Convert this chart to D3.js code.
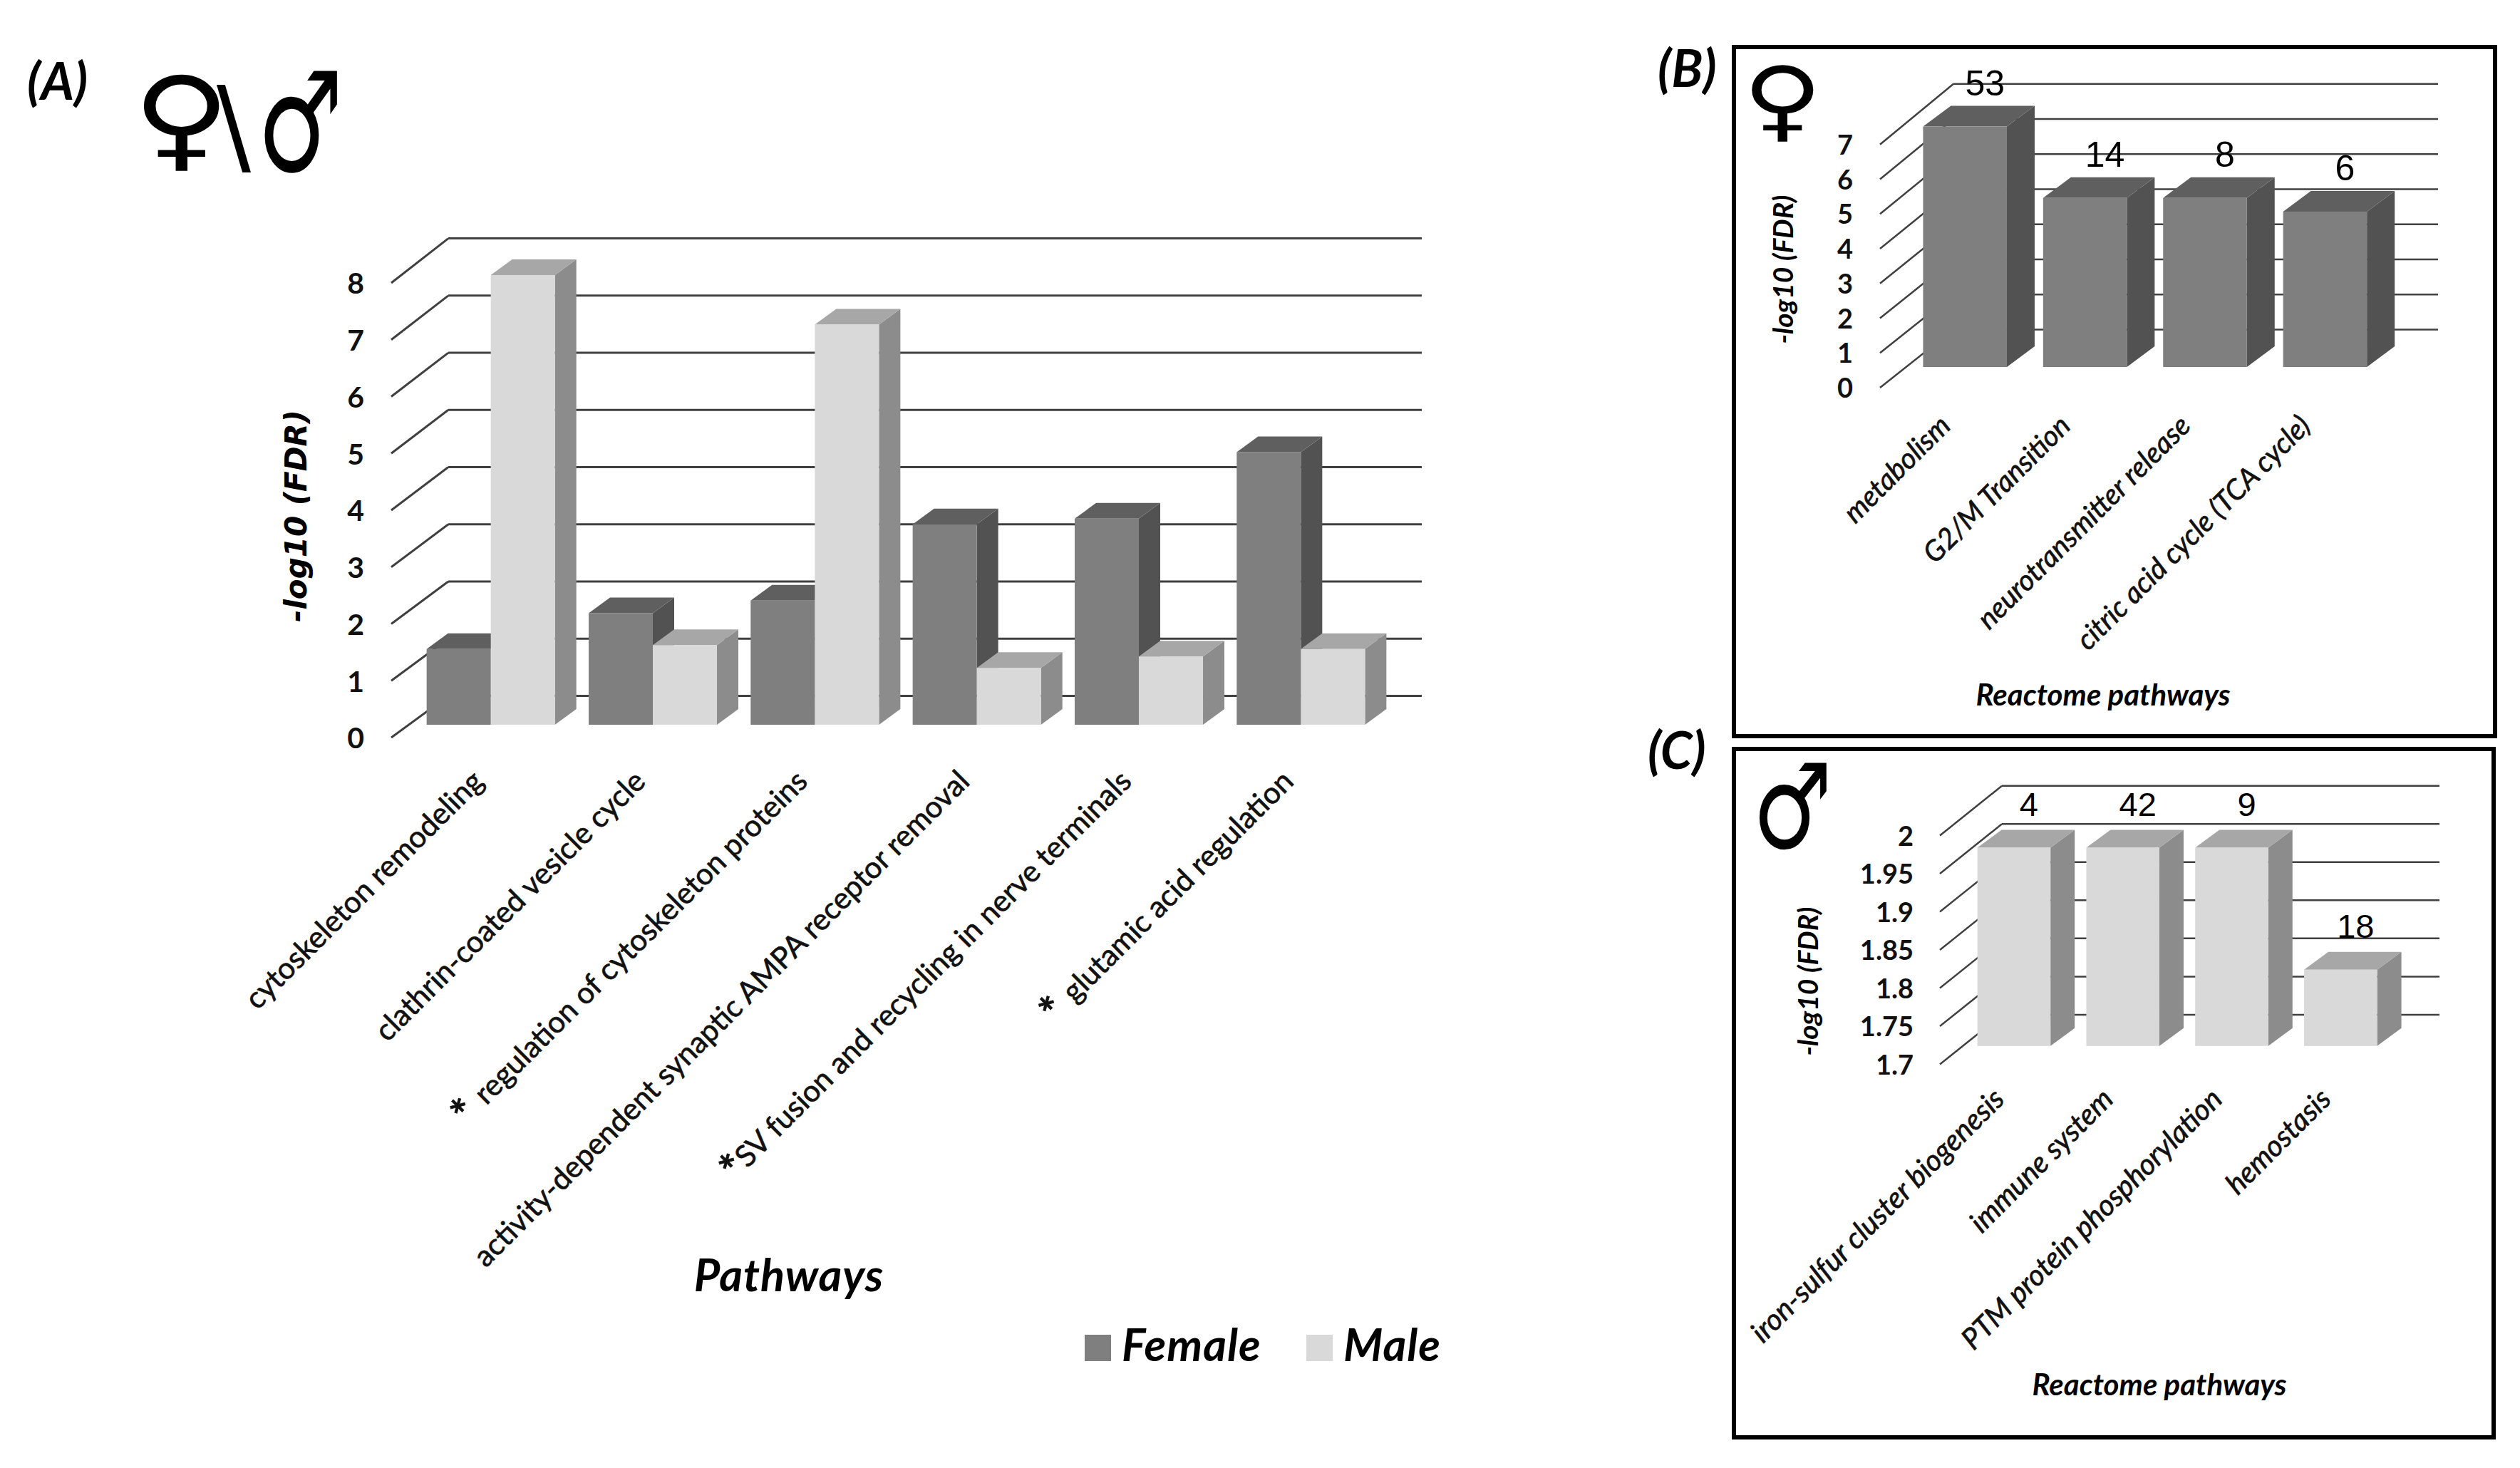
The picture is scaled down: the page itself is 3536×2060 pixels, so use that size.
<!DOCTYPE html>
<html>
<head>
<meta charset="utf-8">
<script src="https://cdn.jsdelivr.net/npm/d3@7/dist/d3.min.js"></script>
<style>
  body { margin: 0; background: #fff; }
  svg { display: block; }
</style>
</head>
<body>
<svg id="fig" width="3536" height="2060"></svg>
<script>
// ---------- data ----------
const pathwaysA = [
  "cytoskeleton remodeling",
  "clathrin-coated vesicle cycle",
  "regulation of cytoskeleton proteins",
  "activity-dependent synaptic AMPA receptor removal",
  "SV fusion and recycling in nerve terminals",
  "glutamic acid regulation"
];
const starA = ["", "", "* ", "", "*", "* "];
const sexes = ["Female", "Male"];
const femaleA = [1.33, 1.96, 2.18, 3.52, 3.62, 4.79];
const maleA = [7.9, 1.4, 7.03, 1.0, 1.2, 1.33];
const ticksA = [0, 1, 2, 3, 4, 5, 6, 7, 8];

const pathwaysB = ["metabolism", "G2/M Transition", "neurotransmitter release", "citric acid cycle (TCA cycle)"];
const fdrB = [6.9, 4.85, 4.85, 4.46];
const genesB = [53, 14, 8, 6];
const ticksB = [0, 1, 2, 3, 4, 5, 6, 7];

const pathwaysC = ["iron-sulfur cluster biogenesis", "immune system", "PTM protein phosphorylation", "hemostasis"];
const fdrC = [1.96, 1.96, 1.96, 1.80];
const genesC = [4, 42, 9, 18];
const ticksC = [1.7, 1.75, 1.8, 1.85, 1.9, 1.95, 2];

// ---------- styles ----------
const shade = {
  Female: { front: "#7f7f7f", side: "#525252", top: "#5f5f5f" },
  Male:   { front: "#d9d9d9", side: "#8c8c8c", top: "#a7a7a7" }
};
const grid = "#404040";
const SANS = "Lato, 'Open Sans', sans-serif";

const svg = d3.select("#fig");

// a column drawn as front face + right side + top, Excel 3-D style
function column(g, x, w, yTop, yBase, dx, dy, c) {
  g.append("path")
    .attr("d", `M${x + w},${yTop}L${x + w + dx},${yTop + dy}L${x + w + dx},${yBase + dy}L${x + w},${yBase}Z`)
    .attr("fill", c.side);
  g.append("path")
    .attr("d", `M${x},${yTop}L${x + dx},${yTop + dy}L${x + w + dx},${yTop + dy}L${x + w},${yTop}Z`)
    .attr("fill", c.top);
  g.append("rect")
    .attr("x", x).attr("y", yTop)
    .attr("width", w).attr("height", yBase - yTop)
    .attr("fill", c.front);
}

// back wall gridlines + left wall diagonals + tick labels
function walls(g, o) {
  g.selectAll(".diag").data(o.ticks).join("line")
    .attr("x1", o.wallX0).attr("y1", d => o.front(d))
    .attr("x2", o.wallX1).attr("y2", d => o.back(d))
    .attr("stroke", grid).attr("stroke-width", o.sw);
  g.selectAll(".back").data(o.ticks).join("line")
    .attr("x1", o.wallX1).attr("y1", d => o.back(d))
    .attr("x2", o.wallX2).attr("y2", d => o.back(d))
    .attr("stroke", grid).attr("stroke-width", o.sw);

  const ax = g.append("g")
    .attr("transform", `translate(${o.labelX},0)`)
    .call(d3.axisLeft(o.front).tickValues(o.ticks).tickSize(0).tickPadding(0).tickFormat(d3.format("~g")));
  ax.select(".domain").remove();
  ax.selectAll("text")
    .attr("font-family", SANS).attr("font-weight", "bold")
    .attr("font-size", o.tickSize).attr("fill", "#111").attr("dy", "0.36em");
}

function rotLabels(g, names, x, y, size, dxOff) {
  g.selectAll(".cat").data(names).join("text")
    .attr("transform", d => `translate(${x(d) + x.bandwidth() / 2 + dxOff},${y}) rotate(-45)`)
    .attr("text-anchor", "end")
    .attr("font-family", SANS).attr("font-size", size)
    .attr("font-style", "italic")
    .attr("fill", "#111").attr("stroke", "#111").attr("stroke-width", 0.7)
    .text(d => d);
}

// sex symbols, stretched like the picture; the advance is trimmed so the
// text box ends at `right` and neighbouring glyphs do not overlap
function symbol(g, ch, x, y, size, sx, sy, right) {
  const t = g.append("text")
    .attr("transform", `translate(${x},${y}) scale(${sx},${sy})`)
    .attr("font-family", "'DejaVu Sans'").attr("font-size", size)
    .attr("fill", "#000").text(ch);
  if (right !== undefined) {
    const w = t.node().getComputedTextLength();
    const want = (right - x) / sx;
    if (want < w) t.attr("letter-spacing", want - w);
  }
  return t;
}

function heading(g, txt, x, y) {
  g.append("text").attr("x", x).attr("y", y)
    .attr("font-family", SANS).attr("font-weight", "bold").attr("font-style", "italic")
    .attr("font-size", 72).text(txt);
}

// =============== panel A ===============
const gA = svg.append("g");
const frontA = d3.scaleLinear().domain([0, 8]).range([1035, 397]);
const backA = d3.scaleLinear().domain([0, 8]).range([976.5, 334.6]);
const barA = d3.scaleLinear().domain([0, 8]).range([1017, 378]);
const xA = d3.scaleBand().domain(pathwaysA).range([575, 1939]).paddingInner(0.208).paddingOuter(0.104);
const xSex = d3.scaleBand().domain(sexes).range([0, xA.bandwidth()]);

walls(gA, { ticks: ticksA, front: frontA, back: backA, wallX0: 549, wallX1: 629, wallX2: 1995,
  labelX: 511, tickSize: 41, sw: 3 });

pathwaysA.forEach((p, i) => {
  const vals = { Female: femaleA[i], Male: maleA[i] };
  sexes.forEach(s => {
    column(gA, xA(p) + xSex(s), xSex.bandwidth(), barA(vals[s]), barA(0), 30, -22, shade[s]);
  });
});

// category labels with asterisks
gA.selectAll(".cat").data(pathwaysA).join("text")
  .attr("transform", d => `translate(${xA(d) + xA.bandwidth() / 2 - 8},1099) rotate(-45)`)
  .attr("text-anchor", "end")
  .attr("font-family", SANS).attr("font-size", 42)
  .attr("fill", "#111").attr("stroke", "#111").attr("stroke-width", 0.7)
  .each(function (d, i) {
    const t = d3.select(this);
    if (starA[i]) t.append("tspan").attr("font-weight", "bold").attr("font-size", 62).attr("dy", 8).text(starA[i]);
    t.append("tspan").attr("dy", starA[i] ? -8 : 0).text(d);
  });

gA.append("text")
  .attr("transform", "translate(430,724) rotate(-90)")
  .attr("text-anchor", "middle")
  .attr("font-family", "'DejaVu Sans'").attr("font-weight", "bold").attr("font-style", "italic")
  .attr("font-size", 42).attr("fill", "#000")
  .text("-log10 (FDR)");

gA.append("text")
  .attr("x", 1107).attr("y", 1812).attr("text-anchor", "middle")
  .attr("font-family", SANS).attr("font-weight", "bold").attr("font-style", "italic")
  .attr("font-size", 63).attr("letter-spacing", 1).attr("fill", "#000")
  .text("Pathways");

// legend
const legX = { Female: 1522, Male: 1833 };
sexes.forEach(s => {
  gA.append("rect").attr("x", legX[s]).attr("y", 1873).attr("width", 37).attr("height", 37)
    .attr("fill", shade[s].front);
  gA.append("text").attr("x", legX[s] + 52).attr("y", 1910)
    .attr("font-family", SANS).attr("font-weight", "bold").attr("font-style", "italic")
    .attr("font-size", 63).attr("letter-spacing", 1).attr("fill", "#000").text(s);
});

heading(gA, "(A)", 38, 140);
symbol(gA, "\u2640", 186, 220, 150, 1.25, 1.05, 303);
symbol(gA, "\\", 304, 228, 150, 0.95, 1, 360);
symbol(gA, "\u2642", 361, 240, 150, 0.9, 1.3);

// =============== panel B ===============
const gB = svg.append("g");
gB.append("rect").attr("x", 2433).attr("y", 66).attr("width", 1068).attr("height", 967)
  .attr("fill", "none").attr("stroke", "#000").attr("stroke-width", 6);
heading(gB, "(B)", 2326, 122);
symbol(gB, "\u2640", 2445, 183, 118, 1.3, 1.06);

const frontB = d3.scaleLinear().domain([0, 7]).range([544, 202.7]);
const backB = d3.scaleLinear().domain([0, 7]).range([462.4, 117.8]);
const barB = d3.scaleLinear().domain([0, 7]).range([515, 172.7]);
const xB = d3.scaleBand().domain(pathwaysB).range([2673, 3346.6]).paddingInner(0.302).paddingOuter(0.151);

walls(gB, { ticks: ticksB, front: frontB, back: backB, wallX0: 2638, wallX1: 2741, wallX2: 3421,
  labelX: 2600, tickSize: 38, sw: 2.5 });

pathwaysB.forEach((p, i) => {
  column(gB, xB(p), xB.bandwidth(), barB(fdrB[i]), barB(0), 39, -29, shade.Female);
});
gB.selectAll(".num").data(pathwaysB).join("text")
  .attr("x", d => xB(d) + xB.bandwidth() / 2 + 28)
  .attr("y", (d, i) => barB(fdrB[i]) - 29 - 15)
  .attr("text-anchor", "middle")
  .attr("font-family", "'Liberation Sans', Arial, sans-serif").attr("font-size", 50).attr("fill", "#000")
  .text((d, i) => genesB[i]);

rotLabels(gB, pathwaysB, xB, 600, 40, -18);

gB.append("text")
  .attr("transform", "translate(2516,378) rotate(-90)")
  .attr("text-anchor", "middle")
  .attr("font-family", SANS).attr("font-weight", "bold").attr("font-style", "italic")
  .attr("font-size", 39).text("-log10 (FDR)");
gB.append("text").attr("x", 2951).attr("y", 990).attr("text-anchor", "middle")
  .attr("font-family", SANS).attr("font-weight", "bold").attr("font-style", "italic")
  .attr("font-size", 42).text("Reactome pathways");

// =============== panel C ===============
const gC = svg.append("g");
gC.append("rect").attr("x", 2433).attr("y", 1051).attr("width", 1066).attr("height", 966)
  .attr("fill", "none").attr("stroke", "#000").attr("stroke-width", 6);
heading(gC, "(C)", 2312, 1079);
symbol(gC, "\u2642", 2459, 1190, 125, 1.0, 1.33);

const frontC = d3.scaleLinear().domain([1.7, 2]).range([1493.5, 1172.4]);
const backC = d3.scaleLinear().domain([1.7, 2]).range([1423.9, 1102.8]);
const barC = d3.scaleLinear().domain([1.7, 2]).range([1467.8, 1146.7]);
const xC = d3.scaleBand().domain(pathwaysC).range([2749.5, 3360.7]).paddingInner(0.329).paddingOuter(0.1645);

walls(gC, { ticks: ticksC, front: frontC, back: backC, wallX0: 2722, wallX1: 2809, wallX2: 3423,
  labelX: 2685, tickSize: 38, sw: 2.5 });

pathwaysC.forEach((p, i) => {
  column(gC, xC(p), xC.bandwidth(), barC(fdrC[i]), barC(1.7), 34, -25, shade.Male);
});
gC.selectAll(".num").data(pathwaysC).join("text")
  .attr("x", d => xC(d) + xC.bandwidth() / 2 + 21)
  .attr("y", (d, i) => barC(fdrC[i]) - 25 - 20)
  .attr("text-anchor", "middle")
  .attr("font-family", "'Liberation Sans', Arial, sans-serif").attr("font-size", 47).attr("fill", "#000")
  .text((d, i) => genesC[i]);

rotLabels(gC, pathwaysC, xC, 1545, 41, -11);

gC.append("text")
  .attr("transform", "translate(2551,1377) rotate(-90)")
  .attr("text-anchor", "middle")
  .attr("font-family", SANS).attr("font-weight", "bold").attr("font-style", "italic")
  .attr("font-size", 39).text("-log10 (FDR)");
gC.append("text").attr("x", 3030).attr("y", 1958).attr("text-anchor", "middle")
  .attr("font-family", SANS).attr("font-weight", "bold").attr("font-style", "italic")
  .attr("font-size", 42).text("Reactome pathways");
</script>
</body>
</html>
